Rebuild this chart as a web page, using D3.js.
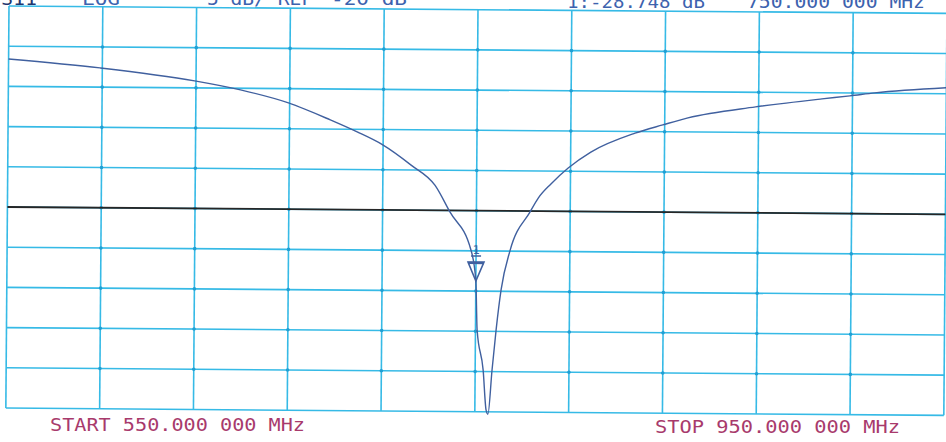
<!DOCTYPE html>
<html>
<head>
<meta charset="utf-8">
<script src="https://cdn.jsdelivr.net/npm/d3@7"></script>
<style>
  body { margin: 0; background: #fff; }
  svg { display: block; }
  text { font-family: "DejaVu Sans Mono", monospace; }
</style>
</head>
<body>
<div class="canvas"></div>
<script>
// S11 sweep (MHz / dB)
const freqs = [550.0, 589.0, 629.4, 649.0, 669.5, 687.4, 698.9, 709.5, 722.0, 732.3,
               738.7, 747.8, 750.0, 750.7, 753.4, 754.8, 755.6, 757.2, 758.8, 760.8,
               764.5, 772.9, 776.4, 781.7, 789.0, 798.6, 817.4, 829.2, 839.9, 868.7,
               897.0, 908.9, 919.5, 950.0]
const s11 = [-1.59, -2.61, -4.13, -5.21, -6.78, -8.85, -10.32, -11.85, -14.4, -16.9,
             -20.18, -24.89, -28.75, -34.8, -39.8, -44.8, -45.3, -39.8, -34.8, -29.8,
             -24.9, -20.1, -18.35, -16.6, -14.6, -12.6, -10.2, -9.15, -8.25, -6.82,
             -5.76, -5.36, -4.96, -4.25]

const fStart = 550, fStop = 950
const refLevel = -20, dbPerDiv = 5
const marker = {freq: 750, db: -28.748}

const headerLeft = [{t: 'S11', x: 1, len: 36}, {t: 'LOG', x: 82, len: 38},
                    {t: '5 dB/ REF', x: 207, len: 106}, {t: '-20 dB', x: 331, len: 76}]
const headerRight = [{t: '1:-28.748 dB', x: 567, len: 138}, {t: '750.000 000 MHz', x: 747, len: 178}]
const footer = [{t: 'START 550.000 000 MHz', x: 50, y: 431, len: 255},
                {t: 'STOP 950.000 000 MHz', x: 655, y: 433, len: 245}]

const data = freqs.map((f, i) => ({f: f, db: s11[i]}))

const W = 946, H = 442
const L = 9, T = 6, PW = 938, PH = 402

const svg = d3.select('.canvas')
              .append('svg')
              .attr('width', W)
              .attr('height', H)

svg.append('rect').attr('width', W).attr('height', H).attr('fill', '#fff')

// scanned plot is a bit tilted
const graph = svg.append('g').attr('transform', `rotate(0.45, ${L}, ${T})`)

const x = d3.scaleLinear().domain([fStart, fStop]).range([L, L + PW])
const y = d3.scaleLinear().domain([refLevel + 5 * dbPerDiv, refLevel - 5 * dbPerDiv]).range([T, T + PH])

const gridColor = '#36bae6'
const xTicks = d3.range(0, 11).map(i => fStart + i * (fStop - fStart) / 10)
const yTicks = d3.range(0, 11).map(i => refLevel + 5 * dbPerDiv - i * dbPerDiv)

graph.selectAll('line.vg').data(xTicks).enter()
  .append('line')
  .attr('x1', d => x(d)).attr('x2', d => x(d))
  .attr('y1', T).attr('y2', T + PH)
  .attr('stroke', gridColor).attr('stroke-width', 1.6)

graph.selectAll('line.hg').data(yTicks).enter()
  .append('line')
  .attr('x1', L).attr('x2', L + PW)
  .attr('y1', d => y(d)).attr('y2', d => y(d))
  .attr('stroke', gridColor).attr('stroke-width', 1.6)

// little dots on the crossings
const crossings = []
xTicks.slice(1, -1).forEach(f => yTicks.slice(1, -1).forEach(v => crossings.push({f: f, v: v})))
graph.selectAll('circle.dot').data(crossings).enter()
  .append('circle')
  .attr('cx', d => x(d.f)).attr('cy', d => y(d.v))
  .attr('r', 1.8)
  .attr('fill', '#1f9fd4')

// reference line
graph.append('line')
  .attr('x1', L).attr('x2', L + PW)
  .attr('y1', y(refLevel)).attr('y2', y(refLevel))
  .attr('stroke', '#262626').attr('stroke-width', 1.8)

const line = d3.line().x(d => x(d.f)).y(d => y(d.db)).curve(d3.curveMonotoneX)

graph.append('path')
  .datum(data)
  .attr('d', line)
  .attr('fill', 'none')
  .attr('stroke', '#40609f')
  .attr('stroke-width', 1.4)

// marker 1
const mx = x(marker.freq), my = y(marker.db)
graph.append('path')
  .attr('d', `M${mx - 8},${my - 19} L${mx + 8},${my - 19} L${mx},${my} Z`)
  .attr('fill', 'none')
  .attr('stroke', '#40609f')
  .attr('stroke-width', 1.6)
graph.append('line')
  .attr('x1', mx - 8).attr('x2', mx + 8)
  .attr('y1', my - 18).attr('y2', my - 18)
  .attr('stroke', '#40609f').attr('stroke-width', 2.2)
graph.append('text')
  .attr('x', mx).attr('y', my - 27)
  .attr('text-anchor', 'middle')
  .attr('font-size', 12)
  .attr('fill', '#40609f')
  .text('1')
graph.append('line')
  .attr('x1', mx - 5).attr('x2', mx + 5)
  .attr('y1', my - 25).attr('y2', my - 25)
  .attr('stroke', '#40609f').attr('stroke-width', 1.5)

// annotation text (cut by the top edge, as on the scan)
svg.selectAll('text.hl').data(headerLeft).enter()
  .append('text')
  .attr('x', d => d.x).attr('y', 5)
  .attr('textLength', d => d.len).attr('lengthAdjust', 'spacingAndGlyphs')
  .attr('font-size', 17)
  .attr('fill', (d, i) => i == 0 ? '#23356e' : '#3d62ae')
  .text(d => d.t)

svg.selectAll('text.hr').data(headerRight).enter()
  .append('text')
  .attr('x', d => d.x).attr('y', 8)
  .attr('textLength', d => d.len).attr('lengthAdjust', 'spacingAndGlyphs')
  .attr('font-size', 17)
  .attr('fill', '#3d62ae')
  .text(d => d.t)

svg.selectAll('text.ft').data(footer).enter()
  .append('text')
  .attr('x', d => d.x).attr('y', d => d.y)
  .attr('textLength', d => d.len).attr('lengthAdjust', 'spacingAndGlyphs')
  .attr('font-size', 17)
  .attr('fill', '#a83a6c')
  .text(d => d.t)
</script>
</body>
</html>
